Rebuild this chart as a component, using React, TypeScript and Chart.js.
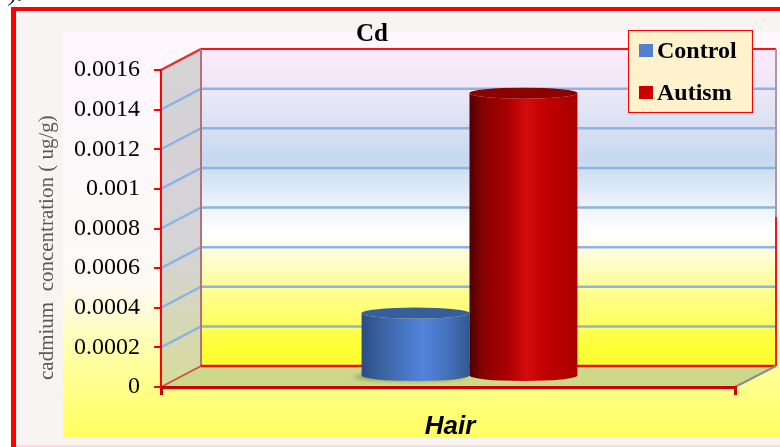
import React, { useEffect, useRef } from "react";
import { Chart, registerables } from "chart.js";

Chart.register(...registerables);

const categories = ["Hair"];
const controlValues = [0.00032];
const autismValues = [0.00143];
const yTickStep = 0.0002;
const yMax = 0.0016;
const chartTitle = "Cd";
const yAxisTitle = "cadmium  concentration ( ug/g)";
const seriesNames = ["Control", "Autism"];
const swatchColors = ["#4f81d0", "#cc0000"];

const SERIF = '"Liberation Serif", serif';
const SANS = '"Liberation Sans", sans-serif';
const DEPTH_X = 40;
const DEPTH_Y = 21;

type Stop = [number, string];

function vGradient(ctx: CanvasRenderingContext2D, y0: number, y1: number, stops: Stop[]) {
  const g = ctx.createLinearGradient(0, y0, 0, y1);
  stops.forEach(([o, c]) => g.addColorStop(o, c));
  return g;
}

function poly(ctx: CanvasRenderingContext2D, pts: number[][]) {
  ctx.beginPath();
  pts.forEach(([x, y], i) => (i ? ctx.lineTo(x, y) : ctx.moveTo(x, y)));
  ctx.closePath();
}

function segment(ctx: CanvasRenderingContext2D, color: string, width: number, pts: number[][]) {
  ctx.strokeStyle = color;
  ctx.lineWidth = width;
  ctx.beginPath();
  pts.forEach(([x, y], i) => (i ? ctx.lineTo(x, y) : ctx.moveTo(x, y)));
  ctx.stroke();
}

// Page frame, panel fill and the 3D box behind the plot (walls, floor, gridlines).
const scenery = {
  id: "scenery",
  beforeDraw(chart: any) {
    const { ctx, width, height, chartArea: a, scales } = chart;
    const { left: l, right: r, top: t, bottom: b } = a;
    ctx.save();
    ctx.fillStyle = "#ffffff";
    ctx.fillRect(0, 0, width, height);

    ctx.fillStyle = "#1a1a1a";
    ctx.font = `italic 24px ${SERIF}`;
    ctx.textAlign = "left";
    ctx.textBaseline = "alphabetic";
    ctx.fillText(").", 9, 1);

    ctx.fillStyle = "#f8f4f4";
    ctx.fillRect(11, 7, width - 11, 438);
    ctx.fillStyle = "#fbdcdc";
    ctx.fillRect(16, 445, width - 16, 2);
    ctx.fillStyle = "#ff0000";
    ctx.fillRect(11, 7, width - 11, 4);
    ctx.fillRect(11, 7, 5, height - 7);

    ctx.fillStyle = vGradient(ctx, 32, 437, [
      [0, "#fdf7fe"],
      [0.62, "#fdfaf6"],
      [0.8, "#ffffa6"],
      [1, "#ffff60"],
    ]);
    ctx.fillRect(63, 32, width - 63, 405);

    const bl = l + DEPTH_X;
    const brx = r + DEPTH_X + 1;
    const bt = t - DEPTH_Y;
    const bb = b - DEPTH_Y;

    ctx.fillStyle = vGradient(ctx, bt, bb, [
      [0, "#ffe9fb"],
      [0.16, "#e8e6f5"],
      [0.35, "#c6d9f0"],
      [0.5, "#eef4fb"],
      [0.58, "#ffffff"],
      [0.635, "#fffde0"],
      [0.745, "#fefe9a"],
      [0.87, "#ffff60"],
      [0.93, "#ffff38"],
      [1, "#ffff30"],
    ]);
    ctx.fillRect(bl, bt, brx - bl, bb - bt);

    poly(ctx, [[l, t], [bl, bt], [bl, bb], [l, b]]);
    ctx.fillStyle = vGradient(ctx, bt, b, [
      [0, "#d6d2d6"],
      [0.6, "#d4d3d6"],
      [1, "#d8dc98"],
    ]);
    ctx.fill();

    poly(ctx, [[l, b], [bl, bb], [brx, bb], [r, b]]);
    ctx.fillStyle = "#cdd98a";
    ctx.fill();

    scales.y.ticks.forEach((tick: any) => {
      if (tick.value <= 0) return;
      const y = scales.y.getPixelForValue(tick.value);
      if (tick.value >= yMax) {
        segment(ctx, "#8db3e2", 2.5, [[l, y], [bl, y - DEPTH_Y]]);
        return;
      }
      segment(ctx, "#8db3e2", 2.5, [[l, y], [bl, y - DEPTH_Y], [brx, y - DEPTH_Y]]);
    });

    segment(ctx, "#e8302c", 2, [[l, t], [bl, bt]]);
    segment(ctx, "#ff1010", 2, [[bl, bt], [brx, bt]]);
    segment(ctx, "#b87078", 2, [[bl, bt], [bl, bb]]);
    segment(ctx, "#a89aa2", 2, [[brx, bt], [brx, 217]]);
    segment(ctx, "#f01818", 2, [[brx, 217], [brx, bb]]);
    segment(ctx, "#e80c0c", 2.5, [[bl, bb], [brx, bb]]);
    segment(ctx, "#cc4a4a", 1.5, [[l, b], [bl, bb]]);
    segment(ctx, "#8c8c8c", 2, [[r, b], [brx, bb]]);
    ctx.restore();
  },
};

const cylinderPalettes = [
  {
    side: [
      [0, "#2a4d85"],
      [0.18, "#3a62a0"],
      [0.57, "#5284dc"],
      [0.8, "#4471bc"],
      [1, "#32598f"],
    ] as Stop[],
    cap: "#375e9c",
  },
  {
    side: [
      [0, "#4e0000"],
      [0.13, "#8a0000"],
      [0.35, "#a80000"],
      [0.53, "#d40c0c"],
      [0.7, "#c00000"],
      [1, "#aa0000"],
    ] as Stop[],
    cap: "#8c0000",
  },
];

// Cylinders are placed from each bar element's scale position, set halfway into the box depth.
const cylinders = {
  id: "cylinders",
  afterDatasetsDraw(chart: any) {
    const { ctx } = chart;
    ctx.save();
    chart.data.datasets.forEach((_: any, i: number) => {
      const bar = chart.getDatasetMeta(i).data[0];
      const { x, y, base, width } = bar.getProps(["x", "y", "base", "width"], true);
      const cx = x + DEPTH_X / 2 + 1.5;
      const top = y - DEPTH_Y / 2;
      const bottom = base - DEPTH_Y / 2;
      const rx = width / 2;
      const ry = 5.5;
      const palette = cylinderPalettes[i];

      if (i === 0) {
        ctx.save();
        ctx.filter = "blur(2px)";
        ctx.fillStyle = "rgba(85,90,55,0.6)";
        ctx.beginPath();
        ctx.ellipse(cx - 6, bottom + 1.5, rx + 2, ry - 2, 0, 0, Math.PI * 2);
        ctx.fill();
        ctx.restore();
      }

      const g = ctx.createLinearGradient(cx - rx, 0, cx + rx, 0);
      palette.side.forEach(([o, c]) => g.addColorStop(o, c));
      ctx.fillStyle = g;
      ctx.beginPath();
      ctx.moveTo(cx - rx, top);
      ctx.lineTo(cx - rx, bottom);
      ctx.ellipse(cx, bottom, rx, ry, 0, Math.PI, 0, true);
      ctx.lineTo(cx + rx, top);
      ctx.ellipse(cx, top, rx, ry, 0, 0, Math.PI, false);
      ctx.closePath();
      ctx.fill();

      ctx.fillStyle = palette.cap;
      ctx.beginPath();
      ctx.ellipse(cx, top, rx, ry, 0, 0, Math.PI * 2);
      ctx.fill();
    });
    ctx.restore();
  },
};

// Title, rotated axis caption and the boxed legend sit at fixed spots in the panel.
const annotations = {
  id: "annotations",
  afterDraw(chart: any) {
    const { ctx } = chart;
    ctx.save();
    ctx.textBaseline = "alphabetic";
    ctx.textAlign = "left";

    ctx.fillStyle = "#000000";
    ctx.font = `bold 25px ${SERIF}`;
    ctx.fillText(chartTitle, 356, 41);

    ctx.save();
    ctx.translate(53, 380);
    ctx.rotate(-Math.PI / 2);
    ctx.fillStyle = "#595959";
    ctx.font = `21px ${SERIF}`;
    ctx.fillText(yAxisTitle, 0, 0);
    ctx.restore();

    ctx.fillStyle = "#fff2cc";
    ctx.fillRect(628.5, 30.5, 124, 82);
    ctx.strokeStyle = "#ff0000";
    ctx.lineWidth = 1;
    ctx.strokeRect(628.5, 30.5, 124, 82);

    ctx.font = `bold 24px ${SERIF}`;
    const rows = [
      { swatchY: 44, baseline: 58 },
      { swatchY: 86, baseline: 100 },
    ];
    rows.forEach((row, i) => {
      ctx.fillStyle = swatchColors[i];
      ctx.fillRect(639, row.swatchY, 14, 13);
      ctx.fillStyle = "#000000";
      ctx.fillText(seriesNames[i], 657, row.baseline);
    });
    ctx.restore();
  },
};

export default function App() {
  const canvasRef = useRef<HTMLCanvasElement | null>(null);

  useEffect(() => {
    document.body.style.margin = "0";
    const chart = new Chart(canvasRef.current as HTMLCanvasElement, {
      type: "bar",
      data: {
        labels: categories,
        datasets: [
          { label: seriesNames[0], data: controlValues, backgroundColor: "transparent", barPercentage: 1, categoryPercentage: 0.376 },
          { label: seriesNames[1], data: autismValues, backgroundColor: "transparent", barPercentage: 1, categoryPercentage: 0.376 },
        ],
      },
      options: {
        responsive: false,
        animation: false,
        layout: { padding: { left: 38, right: 45, top: 70, bottom: 0 } },
        plugins: { legend: { display: false }, title: { display: false }, tooltip: { enabled: false } },
        scales: {
          x: {
            afterFit: (s: any) => {
              s.height = 60;
            },
            border: { color: "#cc0000", width: 3 },
            grid: { drawOnChartArea: false, color: "#cc0000", lineWidth: 3, tickLength: 8, offset: true },
            ticks: { color: "#000000", padding: 16, labelOffset: 2, font: { family: SANS, size: 26, weight: "bold", style: "italic" } },
          },
          y: {
            min: 0,
            max: yMax,
            afterFit: (s: any) => {
              s.width = 123;
            },
            border: { color: "#ff0000", width: 2 },
            grid: { drawOnChartArea: false, color: "#ff0000", lineWidth: 2, tickLength: 7 },
            ticks: {
              stepSize: yTickStep,
              color: "#000000",
              padding: 14,
              font: { family: SERIF, size: 24 },
              callback: (v: any) => String(Number(Number(v).toFixed(4))),
            },
          },
        },
      },
      plugins: [scenery, cylinders, annotations],
    } as any);
    return () => chart.destroy();
  }, []);

  return <canvas ref={canvasRef} width={780} height={447} style={{ display: "block" }} />;
}
